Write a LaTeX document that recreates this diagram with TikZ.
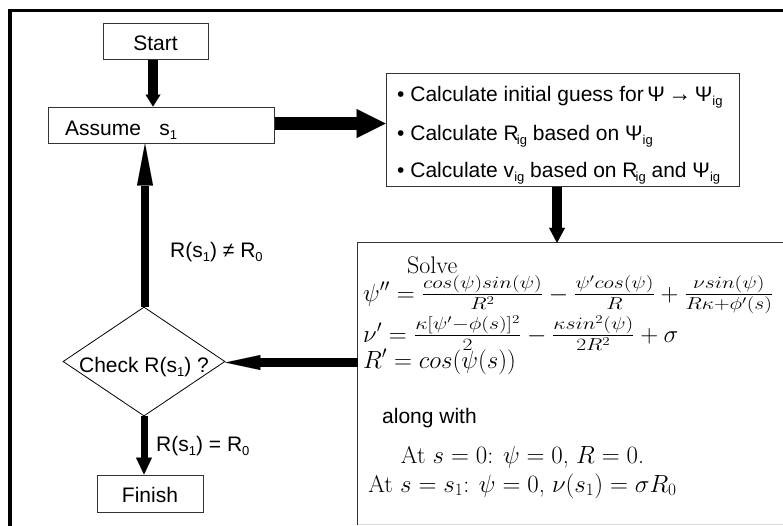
\documentclass[tikz,border=0pt]{standalone}
\usepackage{amsmath}
\usepackage{graphicx}
\usepackage{fontspec}
\newfontfamily\arialf{Liberation Sans}
\usetikzlibrary{arrows.meta,shapes.geometric,calc}
\newcommand\lsub[1]{\raisebox{-4.5pt}{\fontsize{13}{13}\selectfont #1}}
\newcommand\wfrac[2]{\scalebox{1.25}[1]{$\textstyle\frac{#1}{#2}$}}
\begin{document}
\begin{tikzpicture}[x=1pt,y=-1pt,
  box/.style={draw=black!80, line width=1pt, rectangle, inner sep=0pt},
  sans/.style={font=\arialf\fontsize{21}{25}\selectfont, inner sep=0pt},
  serif/.style={font=\fontsize{24}{28}\selectfont, inner sep=0pt},
  fat/.style={line width=#1, draw=black}
]
\path[use as bounding box, clip] (0,0) rectangle (783,525);
\fill[white] (0,0) rectangle (783,525);
% outer frame
\draw[line width=3.5pt] (10,530) -- (10,10.5) -- (790,10.5);

% boxes
\node[box, sans, minimum width=105pt, minimum height=36pt, text height=18pt, text depth=0pt] (start) at (155.5,41) {Start};
\node[box, minimum width=226pt, minimum height=36pt] (assume) at (161,125) {};
\node[sans, anchor=base west] (assumetxt) at (65,135) {Assume\hspace{0.6em} s\lsub{1}};
\node[box, minimum width=353pt, minimum height=113pt] (calc) at (562.5,129.5) {};
\node[sans, anchor=base west] (c1) at (397,101) {\textbullet\ Calculate initial guess for\,Ψ\,{\fontsize{23}{25}\selectfont→}\,Ψ\lsub{ig}};
\node[sans, anchor=base west] (c2) at (397,140) {\textbullet\ Calculate R\kern-2pt\lsub{ig} based on Ψ\lsub{ig}};
\node[sans, anchor=base west] (c3) at (397,177) {\textbullet\ Calculate v\lsub{ig} based on R\kern-2pt\lsub{ig} and Ψ\lsub{ig}};

\node[rectangle, inner sep=0pt, minimum width=442pt, minimum height=281.5pt] (solve) at (579,383.75) {};
\draw[black!80, line width=1pt] (solve.south west) -- (solve.north west) -- (solve.north east);
\draw[black!12, line width=1pt] ([yshift=0.5pt]solve.south west) -- ([yshift=0.5pt]solve.south east);
\node[serif, anchor=base west] (s0) at (407,273) {Solve};
\node[serif, anchor=base west] (e1) at (363,301) {$\psi''=\wfrac{cos(\psi)sin(\psi)}{R^2}-\wfrac{\psi' cos(\psi)}{R}+\wfrac{\nu sin(\psi)}{R\kappa+\phi'(s)}$};
\node[serif, anchor=base west] (e2) at (363,342) {$\nu'=\wfrac{\kappa[\psi'-\phi(s)]^2}{2}-\wfrac{\kappa sin^2(\psi)}{2R^2}+\sigma$};
\node[serif, anchor=base west] (e3) at (363,368) {$R'=cos(\psi(s))$};
\node[sans, anchor=base west] (aw) at (382,423) {along with};
\node[serif, anchor=base] (b1) at (522.5,463) {At $s=0$: $\psi=0$, $R=0$.};
\node[serif, anchor=base] (b2) at (522.5,492) {At $s=s_1$: $\psi=0$, $\nu(s_1)=\sigma R_0$};

\node[diamond, draw=black, line width=0.8pt, inner sep=0pt, minimum width=162pt, minimum height=109pt, sans, text height=21pt, text depth=0pt] (check) at (144,361.5) {\makebox[0pt][c]{Check R(s\lsub{1}) ?}};
\node[box, sans, minimum width=106pt, minimum height=37pt, text height=17pt, text depth=0pt] (finish) at (150,493.5) {Finish};

% labels
\node[sans, anchor=base west] (ne) at (170,257) {R(s\lsub{1}) ≠ R\lsub{0}};
\node[sans, anchor=base west] (eq) at (156,451) {R(s\lsub{1}) = R\lsub{0}};

% connectors
\draw[fat=10pt, -{Triangle[length=12pt,width=15pt,line width=0.01pt]}] ([xshift=-2.5pt]start.south) -- ([xshift=-2.5pt]start.south |- assume.north);
\draw[fat=13pt, -{Triangle[length=29pt,width=29pt,line width=0.01pt]}] ([yshift=1.5pt]assume.east) -- ([yshift=1.5pt]assume.east -| calc.west);
\draw[fat=10pt, -{Triangle[length=15pt,width=16pt,line width=0.01pt]}] ([xshift=-5.5pt]calc.south) -- ([xshift=-5.5pt]calc.south |- solve.north);
\draw[fat=9pt, -{Triangle[length=35pt,width=15pt,line width=0.01pt]}] ([yshift=-1pt]check.east -| solve.west) -- ([yshift=-1pt]check.east);
\draw[fat=8pt, -{Triangle[length=42pt,width=16pt,line width=0.01pt]}] ([xshift=1pt]check.north) -- ([xshift=1pt]check.north |- assume.south);
\draw[fat=7pt, -{Triangle[length=17pt,width=16pt,line width=0.01pt]}] (check.south) -- (check.south |- finish.north);
\end{tikzpicture}
\end{document}
